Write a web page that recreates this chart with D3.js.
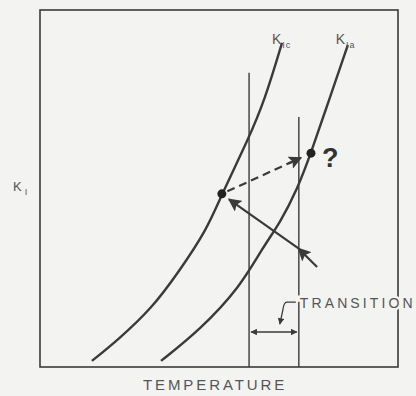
<!DOCTYPE html>
<html>
<head>
<meta charset="utf-8">
<script src="https://cdn.jsdelivr.net/npm/d3@7"></script>
<style>
  html, body { margin: 0; padding: 0; background: #f3f3f1; }
  svg { display: block; }
  text { font-family: "Liberation Sans", Arial, sans-serif; fill: #555; }
</style>
</head>
<body>
<svg id="chart" width="416" height="396"></svg>
<script>
// Fracture toughness curves (temperature, K) in arbitrary units 0..100
const kIcTemp = [14.5, 21.8, 31.3, 38.5, 46.6, 50.8, 58.1, 62.8, 67.6];
const kIcVal  = [1.7, 7.6, 16.5, 26.3, 38.4, 48.5, 63.6, 74.8, 90.8];
const kIaTemp = [33.8, 44.7, 55.9, 62.3, 67.0, 71.8, 75.7, 81.0, 86.0];
const kIaVal  = [1.7, 10.4, 22.4, 33.6, 40.3, 49.6, 59.9, 75.6, 90.2];

// Operating points on each curve
const pointTemp = [50.8, 75.7];
const pointVal  = [48.5, 59.9];

// Transition band limits and the heights of their marker lines
const transitionTemp = [58.4, 72.3];
const transitionTop  = [82.4, 70.0];

// Loading path arriving at the K_Ic point
const loadPathTemp = [77.4, 72.2, 50.8];
const loadPathVal  = [28.0, 33.2, 48.5];

const axisLabels = ["TEMPERATURE", "K"];

const svg = d3.select("#chart");
const x = d3.scaleLinear().domain([0, 100]).range([40, 398]);
const y = d3.scaleLinear().domain([0, 100]).range([367, 10]);

const ink = "#3a3a3a";

// arrowhead markers
const defs = svg.append("defs");
defs.append("marker")
  .attr("id", "head")
  .attr("viewBox", "0 0 10 10")
  .attr("refX", 9).attr("refY", 5)
  .attr("markerWidth", 6).attr("markerHeight", 6)
  .attr("markerUnits", "strokeWidth")
  .attr("orient", "auto")
  .append("path").attr("d", "M0,0 L10,5 L0,10 L2,5 Z").attr("fill", ink);
defs.append("marker")
  .attr("id", "small")
  .attr("viewBox", "0 0 10 10")
  .attr("refX", 9).attr("refY", 5)
  .attr("markerWidth", 6).attr("markerHeight", 5)
  .attr("markerUnits", "strokeWidth")
  .attr("orient", "auto-start-reverse")
  .append("path").attr("d", "M0,0 L10,5 L0,10 Z").attr("fill", ink);

// frame
svg.append("rect")
  .attr("x", x(0)).attr("y", y(100))
  .attr("width", x(100) - x(0)).attr("height", y(0) - y(100))
  .attr("fill", "none").attr("stroke", ink).attr("stroke-width", 1.6);

// transition band lines
svg.selectAll("line.trans").data(transitionTemp).join("line")
  .attr("class", "trans")
  .attr("x1", d => x(d)).attr("x2", d => x(d))
  .attr("y1", (d, i) => y(transitionTop[i])).attr("y2", y(0))
  .attr("stroke", ink).attr("stroke-width", 1.4);

// toughness curves (B-spline smooths the hand-drawn shape)
const line = d3.line().x(d => x(d[0])).y(d => y(d[1])).curve(d3.curveBasis);
const curves = [d3.zip(kIcTemp, kIcVal), d3.zip(kIaTemp, kIaVal)];
svg.selectAll("path.curve").data(curves).join("path")
  .attr("class", "curve")
  .attr("d", line)
  .attr("fill", "none").attr("stroke", ink).attr("stroke-width", 2.4);

// dashed arrow between the points
const p0 = [x(pointTemp[0]), y(pointVal[0])];
const p1 = [x(pointTemp[1]), y(pointVal[1])];
const ang = Math.atan2(p1[1] - p0[1], p1[0] - p0[0]);
const shortEnd = [p1[0] - 11 * Math.cos(ang), p1[1] - 11 * Math.sin(ang)];
const shortStart = [p0[0] + 6 * Math.cos(ang), p0[1] + 6 * Math.sin(ang)];
svg.append("line")
  .attr("x1", shortStart[0]).attr("y1", shortStart[1])
  .attr("x2", shortEnd[0] - 10 * Math.cos(ang)).attr("y2", shortEnd[1] - 10 * Math.sin(ang))
  .attr("stroke", ink).attr("stroke-width", 2.2).attr("stroke-dasharray", "8,5");
svg.append("path")
  .attr("d", `M${shortEnd[0] - 14 * Math.cos(ang)},${shortEnd[1] - 14 * Math.sin(ang)} L${shortEnd[0]},${shortEnd[1]}`)
  .attr("stroke", ink).attr("stroke-width", 2.2).attr("marker-end", "url(#head)");

// solid loading path with mid arrowhead
const lp = d3.zip(loadPathTemp, loadPathVal).map(d => [x(d[0]), y(d[1])]);
const a2 = Math.atan2(lp[2][1] - lp[0][1], lp[2][0] - lp[0][0]);
const lpEnd = [lp[2][0] - 9 * Math.cos(a2), lp[2][1] - 9 * Math.sin(a2)];
svg.append("path")
  .attr("d", `M${lp[0][0]},${lp[0][1]} L${lp[1][0]},${lp[1][1]}`)
  .attr("stroke", ink).attr("stroke-width", 2.2).attr("marker-end", "url(#head)");
svg.append("path")
  .attr("d", `M${lp[1][0]},${lp[1][1]} L${lpEnd[0]},${lpEnd[1]}`)
  .attr("stroke", ink).attr("stroke-width", 2.2).attr("marker-end", "url(#head)");

// points
svg.selectAll("circle.pt").data(pointTemp).join("circle")
  .attr("class", "pt")
  .attr("cx", d => x(d)).attr("cy", (d, i) => y(pointVal[i]))
  .attr("r", 4.5).attr("fill", "#222");

// question mark
svg.append("text")
  .attr("x", p1[0] + 11).attr("y", p1[1] + 14)
  .attr("font-size", 27).attr("font-weight", "bold")
  .style("fill", "#333").text("?");

// transition width arrow
const yDim = y(9.8);
svg.append("line")
  .attr("x1", x(transitionTemp[0]) + 2).attr("x2", x(transitionTemp[1]) - 2)
  .attr("y1", yDim).attr("y2", yDim)
  .attr("stroke", ink).attr("stroke-width", 1.3)
  .attr("marker-start", "url(#small)").attr("marker-end", "url(#small)");

// TRANSITION label with leader
const tx = x(transitionTemp[1]) + 1, ty = y(16.5);
svg.append("path")
  .attr("d", `M${tx - 4},${ty - 6} L${tx - 13},${ty - 6} Q${tx - 16},${ty - 6} ${tx - 17},${ty + 2} L${tx - 20},${ty + 16}`)
  .attr("fill", "none").attr("stroke", ink).attr("stroke-width", 1.3)
  .attr("marker-end", "url(#small)");
svg.append("text")
  .attr("x", tx).attr("y", ty)
  .attr("font-size", 14).attr("letter-spacing", 3.1)
  .attr("stroke", "#f3f3f1").attr("stroke-width", 5).attr("paint-order", "stroke")
  .text("TRANSITION");

// curve labels
const curveLabel = (xx, yy, sub) => {
  const t = svg.append("text").attr("x", xx).attr("y", yy).attr("font-size", 14);
  t.append("tspan").text("K");
  t.append("tspan").attr("font-size", 9).attr("dx", 1).attr("dy", 4).attr("letter-spacing", 1).text(sub);
};
curveLabel(x(64.8), y(90.5), "Ic");
curveLabel(x(82.6), y(90.5), "Ia");

// axis titles
const kT = svg.append("text").attr("x", 13).attr("y", 191).attr("font-size", 13);
kT.append("tspan").text(axisLabels[1]);
kT.append("tspan").attr("font-size", 9).attr("dx", 3).attr("dy", 4).text("I");

svg.append("text")
  .attr("x", 143).attr("y", 390)
  .attr("font-size", 15).attr("letter-spacing", 2.9)
  .text(axisLabels[0]);
</script>
</body>
</html>
